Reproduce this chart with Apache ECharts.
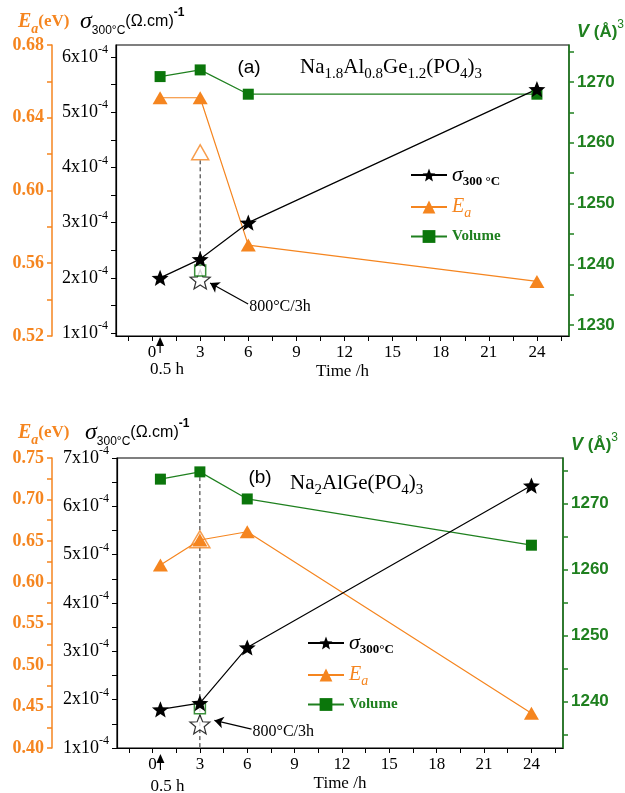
<!DOCTYPE html>
<html>
<head>
    <meta charset="utf-8">
</head>
<body style="margin: 0">
<div id="container" style="width: 625px; height: 793px;"></div>
<script type="text/javascript" src="https://cdn.jsdelivr.net/npm/echarts@6/dist/echarts.min.js"></script>
<script type="text/javascript">
    // shared x axis
    var timeTicks = [-1.5, 0, 1.5, 3, 4.5, 6, 7.5, 9, 10.5, 12, 13.5, 15, 16.5, 18, 19.5, 21, 22.5, 24, 25.5];
    var timeLabels = [0, 3, 6, 9, 12, 15, 18, 21, 24];
    var time = [0.5, 3, 6, 24];

    // (a) Na1.8Al0.8Ge1.2(PO4)3
    var sigmaA = [2.0e-4, 2.34e-4, 3.0e-4, 5.42e-4];
    var eaA = [0.651, 0.651, 0.570, 0.550];
    var volA = [1270.9, 1272.0, 1268.0, 1268.0];
    var sigmaA800 = 1.97e-4, eaA800 = 0.621, volA800 = 1239.0;   // 800°C/3h sample
    var dashA = [4.13e-4, 2.2e-4];
    var arrowA = [[5.99, 1.525e-4], [3.62, 1.906e-4]];
    var sigmaTicksA = [1e-4, 1.5e-4, 2e-4, 2.5e-4, 3e-4, 3.5e-4, 4e-4, 4.5e-4, 5e-4, 5.5e-4, 6e-4];
    var sigmaLabelsA = [1e-4, 2e-4, 3e-4, 4e-4, 5e-4, 6e-4];
    var volTicksA = [1230, 1235, 1240, 1245, 1250, 1255, 1260, 1265, 1270, 1275];
    var volLabelsA = [1230, 1240, 1250, 1260, 1270];

    // (b) Na2AlGe(PO4)3
    var sigmaB = [1.80e-4, 1.93e-4, 3.08e-4, 6.43e-4];
    var eaB = [0.621, 0.651, 0.661, 0.442];
    var volB = [1273.7, 1274.8, 1270.7, 1263.7];
    var sigmaB800 = 1.49e-4, eaB800 = 0.652, volB800 = 1239.0;
    var dashB = [6.75e-4, 1.0e-4];
    var arrowB = [[6.27, 1.39e-4], [3.92, 1.57e-4]];
    var volTicksB = [1235, 1240, 1245, 1250, 1255, 1260, 1265, 1270, 1275];
    var volLabelsB = [1240, 1250, 1260, 1270];

    var ORANGE = '#F5851F', GREEN = '#1F801F', SQ = '#0B760B';
    var SERIF = '"Liberation Serif", "DejaVu Serif", serif';
    var SANS = '"Liberation Sans", Arial, sans-serif';
    var STAR = 'path://M0,-10 L2.6,-3.4 L9.51,-3.09 L4.1,1.35 L5.88,8.09 L0,4.3 L-5.88,8.09 L-4.1,1.35 L-9.51,-3.09 L-2.6,-3.4 Z';

    function pairs(xs, ys) {
        return xs.map(function (x, i) { return [x, ys[i]]; });
    }

    var dom = document.getElementById('container');
    var myChart = echarts.init(dom);

    var sigRich = {
        a: {fontFamily: SERIF, fontSize: 18, color: '#000', lineHeight: 26},
        s: {fontFamily: SERIF, fontSize: 12, color: '#000', lineHeight: 12, verticalAlign: 'top'}
    };
    function sigFmt(v) {
        return '{a|' + Math.round(v * 1e4) + 'x10}{s|-4}';
    }

    function xAxisFor(k) {
        return {
            type: 'value', gridIndex: k, min: -2.25, max: 26,
            name: 'Time /h', nameLocation: 'middle', nameGap: 27,
            nameTextStyle: {fontFamily: SERIF, fontSize: 17, color: '#000'},
            axisLine: {show: true, onZero: false, lineStyle: {color: '#000', width: 1.2}},
            axisTick: {show: true, length: 5, customValues: timeTicks, lineStyle: {color: '#000'}},
            axisLabel: {customValues: timeLabels, margin: 8, fontFamily: SERIF, fontSize: 17, color: '#000'},
            splitLine: {show: false}
        };
    }

    function sigmaAxis(k, min, max, extra) {
        var ax = {
            type: 'value', gridIndex: k, position: 'left', min: min, max: max,
            axisLine: {show: true, onZero: false, lineStyle: {color: '#000', width: 1.2}},
            axisTick: {show: true, length: 5, lineStyle: {color: '#000'}},
            axisLabel: {margin: 8, formatter: sigFmt, rich: sigRich, color: '#000'},
            splitLine: {show: false}
        };
        return echarts.util.merge(ax, extra || {}, true);
    }

    function eaAxis(k, min, max, step, offset) {
        return {
            type: 'value', gridIndex: k, position: 'left', offset: offset,
            min: min, max: max, interval: step,
            axisLine: {show: true, onZero: false, lineStyle: {color: ORANGE, width: 1.5}},
            axisTick: {show: true, length: 5, lineStyle: {color: ORANGE, width: 1.5}},
            minorTick: {show: true, splitNumber: 2, length: 5, lineStyle: {color: ORANGE, width: 1.5}},
            axisLabel: {
                margin: 8, fontFamily: SERIF, fontWeight: 'bold', fontSize: 18, color: ORANGE,
                formatter: function (v) { return v.toFixed(2); }
            },
            splitLine: {show: false}
        };
    }

    function volAxis(k, min, max, ticks, labels) {
        return {
            type: 'value', gridIndex: k, position: 'right', min: min, max: max,
            axisLine: {show: true, onZero: false, lineStyle: {color: GREEN, width: 1.5}},
            axisTick: {show: true, length: 5, customValues: ticks, lineStyle: {color: GREEN, width: 1.5}},
            axisLabel: {
                customValues: labels, margin: 8, fontFamily: SANS, fontWeight: 'bold', fontSize: 17, color: GREEN,
                formatter: function (v) { return String(Math.round(v)); }
            },
            splitLine: {show: false}
        };
    }

    function panelSeries(k, d) {
        var s = 3 * k;
        return [
            {name: 'dash' + k, type: 'line', xAxisIndex: k, yAxisIndex: s, data: [[3, d.dash[0]], [3, d.dash[1]]],
                symbol: 'none', lineStyle: {color: '#222', width: 1, type: [4, 3]}, z: 1},
            {name: 'ea800' + k, type: 'scatter', xAxisIndex: k, yAxisIndex: s + 1, data: [[3, d.ea800]],
                symbol: 'triangle', symbolSize: d.openTri, z: 1,
                itemStyle: {color: '#fff', borderColor: ORANGE, borderWidth: 1.5}},
            {name: 'ea' + k, type: 'line', xAxisIndex: k, yAxisIndex: s + 1, data: pairs(time, d.ea),
                symbol: 'triangle', symbolSize: [15, 13], itemStyle: {color: ORANGE},
                lineStyle: {color: ORANGE, width: 1.2}},
            {name: 'v' + k, type: 'line', xAxisIndex: k, yAxisIndex: s + 2, data: pairs(time, d.vol),
                symbol: 'rect', symbolSize: 11, itemStyle: {color: SQ},
                lineStyle: {color: GREEN, width: 1.2}},
            {name: 's' + k, type: 'line', xAxisIndex: k, yAxisIndex: s, data: pairs(time, d.sigma),
                symbol: STAR, symbolSize: 17, symbolKeepAspect: true, itemStyle: {color: '#000'},
                lineStyle: {color: '#000', width: 1.2}},
            {name: 's800' + k, type: 'scatter', xAxisIndex: k, yAxisIndex: s, data: [[3, d.sigma800]],
                symbol: STAR, symbolSize: 20, symbolKeepAspect: true,
                itemStyle: {color: '#fff', borderColor: '#000', borderWidth: 1.2},
                markLine: {
                    silent: true, symbol: ['none', 'arrow'], symbolSize: 9, animation: false,
                    lineStyle: {color: '#000', width: 1.2, type: 'solid'},
                    label: {show: false},
                    data: [[{coord: d.arrow[0]}, {coord: d.arrow[1]}]]
                }},
            {name: 'v800' + k, type: 'scatter', xAxisIndex: k, yAxisIndex: s + 2, data: [[3, d.vol800]],
                symbol: 'rect', symbolSize: 11,
                itemStyle: {color: '#fff', borderColor: SQ, borderWidth: 1.5}}
        ];
    }

    var legendText = {
        s0: '{sg|σ}{sb|300 °C}', ea0: '{ea|E}{eas|a}', v0: '{vol|Volume}',
        s1: '{sg|σ}{sb|300°C}', ea1: '{ea|E}{eas|a}', v1: '{vol|Volume}'
    };
    var legRich = {
        sg: {fontFamily: SERIF, fontStyle: 'italic', fontSize: 22, color: '#000', lineHeight: 26},
        sb: {fontFamily: SERIF, fontWeight: 'bold', fontSize: 13, color: '#000', lineHeight: 13, verticalAlign: 'bottom'},
        ea: {fontFamily: SERIF, fontStyle: 'italic', fontSize: 20, color: ORANGE, lineHeight: 26},
        eas: {fontFamily: SERIF, fontStyle: 'italic', fontSize: 14, color: ORANGE, lineHeight: 13, verticalAlign: 'bottom'},
        vol: {fontFamily: SERIF, fontWeight: 'bold', fontSize: 15, color: GREEN, lineHeight: 26}
    };
    function legendFor(k, left, top, gap) {
        return {
            left: left, top: top, orient: 'vertical', itemWidth: 36, itemHeight: 16, itemGap: gap,
            selectedMode: false, data: ['s' + k, 'ea' + k, 'v' + k],
            formatter: function (n) { return legendText[n]; },
            textStyle: {rich: legRich}
        };
    }

    var option = {
        animation: false,
        grid: [
            {left: 116, top: 45, width: 453, height: 291, show: true, borderColor: '#000', borderWidth: 1.2},
            {left: 117, top: 458, width: 446, height: 295, show: true, borderColor: '#000', borderWidth: 1.2}
        ],
        xAxis: [xAxisFor(0), xAxisFor(1)],
        yAxis: [
            sigmaAxis(0, 0.946e-4, 6.22e-4, {
                axisTick: {customValues: sigmaTicksA}, axisLabel: {customValues: sigmaLabelsA}
            }),
            eaAxis(0, 0.52, 0.68, 0.04, 64),
            volAxis(0, 1228.2, 1276.1, volTicksA, volLabelsA),
            sigmaAxis(1, 1e-4, 7e-4, {interval: 1e-4, minorTick: {show: true, splitNumber: 2, length: 5, lineStyle: {color: '#000'}}}),
            eaAxis(1, 0.40, 0.75, 0.05, 65),
            volAxis(1, 1233.0, 1276.9, volTicksB, volLabelsB)
        ],
        legend: [legendFor(0, 405, 159, 9), legendFor(1, 302, 627, 9)],
        series: panelSeries(0, {
            sigma: sigmaA, ea: eaA, vol: volA, sigma800: sigmaA800, ea800: eaA800, vol800: volA800,
            dash: dashA, arrow: arrowA, openTri: [17, 15]
        }).concat(panelSeries(1, {
            sigma: sigmaB, ea: eaB, vol: volB, sigma800: sigmaB800, ea800: eaB800, vol800: volB800,
            dash: dashB, arrow: arrowB, openTri: [20, 17]
        }))
    };
    myChart.setOption(option);

    // texts and annotations
    function eaName(y) {
        return {type: 'text', x: 18, y: y, style: {
            text: '{E|E}{a|a}{p|(eV)}', verticalAlign: 'middle',
            rich: {
                E: {fontFamily: SERIF, fontStyle: 'italic', fontWeight: 'bold', fontSize: 20, fill: ORANGE, lineHeight: 28},
                a: {fontFamily: SERIF, fontStyle: 'italic', fontWeight: 'bold', fontSize: 14, fill: ORANGE, lineHeight: 13, verticalAlign: 'bottom'},
                p: {fontFamily: SERIF, fontWeight: 'bold', fontSize: 17, fill: ORANGE, lineHeight: 28}
            }
        }};
    }
    function sigmaName(x, y) {
        return {type: 'text', x: x, y: y, style: {
            text: '{s|σ}{b|300°C}{u|(Ω.cm)}{p|-1}', verticalAlign: 'middle',
            rich: {
                s: {fontFamily: SERIF, fontStyle: 'italic', fontSize: 24, fill: '#000', lineHeight: 30},
                b: {fontFamily: SANS, fontSize: 12, fill: '#000', lineHeight: 12, verticalAlign: 'bottom'},
                u: {fontFamily: SANS, fontSize: 16, fill: '#000', lineHeight: 30},
                p: {fontFamily: SANS, fontWeight: 'bold', fontSize: 12, fill: '#000', lineHeight: 12, verticalAlign: 'top'}
            }
        }};
    }
    function volName(x, y) {
        return {type: 'text', x: x, y: y, style: {
            text: '{v|V}{p| (Å)}{s|3}', verticalAlign: 'middle',
            rich: {
                v: {fontFamily: SANS, fontStyle: 'italic', fontWeight: 'bold', fontSize: 18, fill: GREEN, lineHeight: 26},
                p: {fontFamily: SANS, fontWeight: 'bold', fontSize: 17, fill: GREEN, lineHeight: 26},
                s: {fontFamily: SANS, fontSize: 12, fill: GREEN, lineHeight: 12, verticalAlign: 'top'}
            }
        }};
    }
    var formulaRich = {
        n: {fontFamily: SERIF, fontSize: 21, fill: '#000', lineHeight: 30},
        s: {fontFamily: SERIF, fontSize: 15, fill: '#000', lineHeight: 14, verticalAlign: 'bottom'}
    };
    function plainText(x, y, txt, font, size, align) {
        return {type: 'text', x: x, y: y, style: {
            text: txt, fontFamily: font, fontSize: size, fill: '#000', align: align || 'left', verticalAlign: 'middle'
        }};
    }
    function halfHourMark(k, y0, labelY) {
        var px = myChart.convertToPixel({xAxisIndex: k}, 0.5);
        return [
            {type: 'line', shape: {x1: px, y1: y0 + 6, x2: px, y2: y0 + 17}, style: {stroke: '#000', lineWidth: 1.2}},
            {type: 'polygon', shape: {points: [[px, y0 + 1], [px - 4, y0 + 10], [px + 4, y0 + 10]]}, style: {fill: '#000'}},
            plainText(px + 7, labelY, '0.5 h', SERIF, 17, 'center')
        ];
    }
    function noteText(k, pt) {
        var p = myChart.convertToPixel({xAxisIndex: k, yAxisIndex: 3 * k}, pt);
        return plainText(p[0] + 1, p[1] + 3, '800°C/3h', SERIF, 16);
    }

    var graphics = [
        eaName(22), sigmaName(80, 22), volName(577, 32),
        eaName(433), sigmaName(85, 433), volName(571, 445),
        plainText(249, 68, '(a)', SANS, 19, 'center'),
        {type: 'text', x: 300, y: 67, style: {
            text: '{n|Na}{s|1.8}{n|Al}{s|0.8}{n|Ge}{s|1.2}{n|(PO}{s|4}{n|)}{s|3}', verticalAlign: 'middle', rich: formulaRich}},
        plainText(260, 478, '(b)', SANS, 19, 'center'),
        {type: 'text', x: 290, y: 483, style: {
            text: '{n|Na}{s|2}{n|AlGe(PO}{s|4}{n|)}{s|3}', verticalAlign: 'middle', rich: formulaRich}},
        noteText(0, arrowA[0]), noteText(1, arrowB[0])
    ].concat(halfHourMark(0, 336, 370)).concat(halfHourMark(1, 753, 787));

    myChart.setOption({graphic: graphics});
</script>
</body>
</html>
